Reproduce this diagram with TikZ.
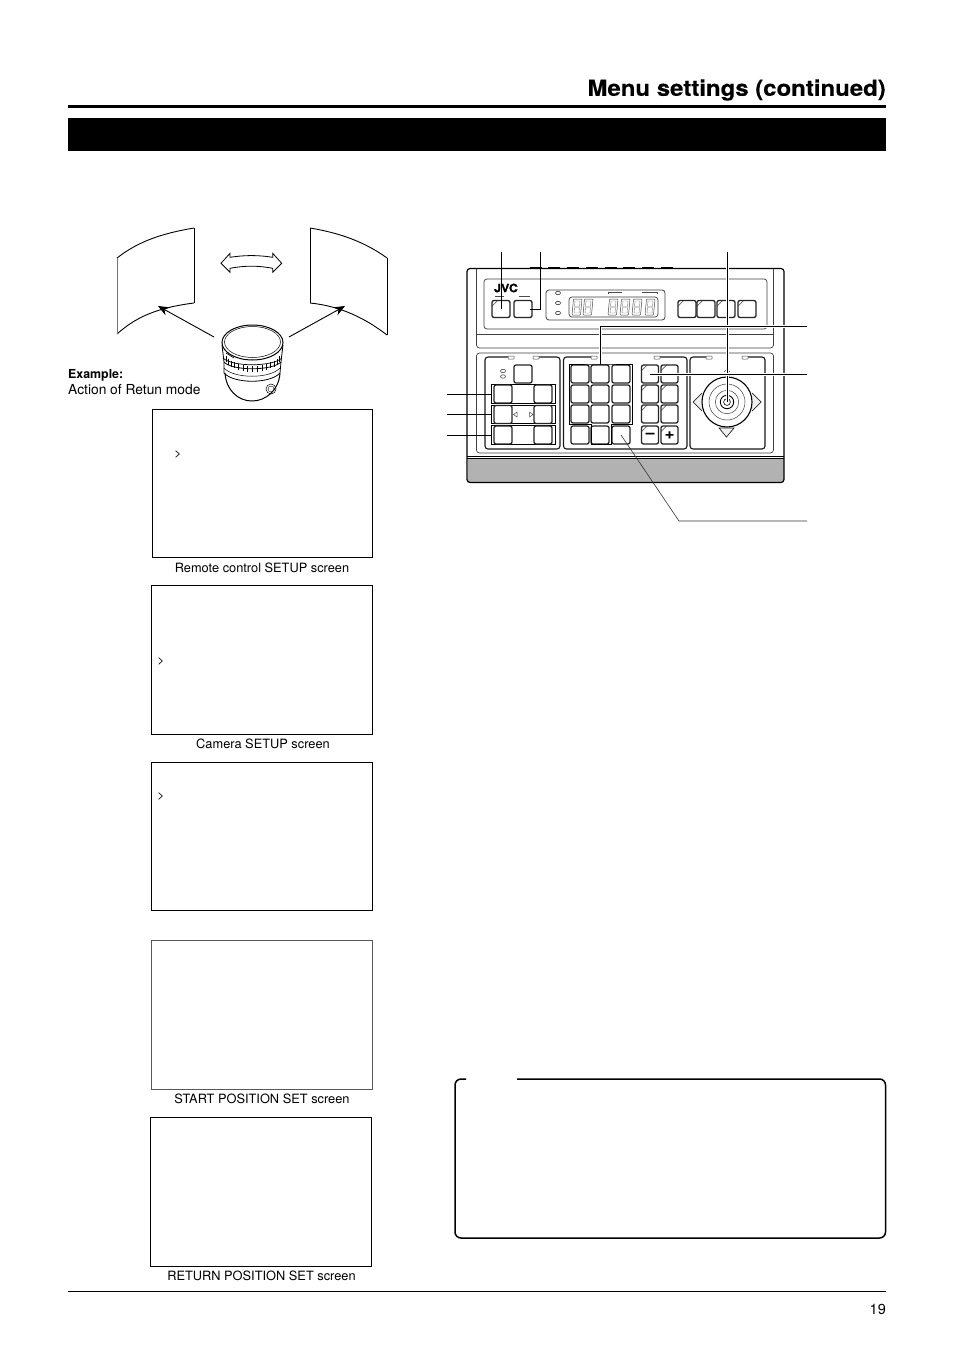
\documentclass[tikz,border=0pt]{standalone}
\usepackage{fontspec}
\setmainfont{TeX Gyre Heros}
\newfontfamily\headfont[FakeStretch=1.09,FakeBold=0.3]{TeX Gyre Heros}
\usetikzlibrary{arrows.meta,shapes.geometric}
\tikzset{
  screen/.style={draw,line width=0.9pt,minimum width=220,minimum height=148,inner sep=0},
  caption/.style={font=\fontsize{12.8}{15}\selectfont,inner sep=0},
  key/.style={draw=black!85,line width=1.3pt,rounded corners=2pt,minimum width=18,minimum height=18,inner sep=0},
  tkey/.style={key,path picture={\draw[black!60,line width=0.7pt] ([xshift=5.5pt]path picture bounding box.north west) -- ([yshift=-5.5pt]path picture bounding box.north west);}},
  strip/.style={draw,line width=0.8pt,minimum width=64,minimum height=18.5,inner sep=0},
  led/.style={draw=black!70,line width=0.5pt,fill=white,minimum width=6,minimum height=3,inner sep=0,rounded corners=0.5pt},
  dot/.style={draw=black!70,line width=0.6pt,ellipse,minimum width=5,minimum height=3.5,inner sep=0},
  lead/.style={line width=0.8pt,preaction={draw,white,line width=3pt}},
  panel/.style={draw=black!75,line width=0.7pt,rounded corners=3pt},
  sect/.style={draw=black!90,line width=1.1pt,rounded corners=3pt},
  view/.style={line width=0.9pt},
}
\begin{document}
\begin{tikzpicture}[x=1pt,y=-1pt]
  \useasboundingbox (0,0) rectangle (954,1351);
  \fill[white] (0,0) rectangle (954,1351);
  % page head and foot
  \node[font=\fontsize{22}{24}\headfont\bfseries,anchor=east,inner sep=0] (title) at (886,90) {Menu settings (continued)};
  \draw[line width=3pt] (68,106.5) -- (886,106.5);
  \fill (68,118) rectangle (886,151);
  \draw[line width=0.8pt] (68,1291) -- (886,1291);
  \node[font=\fontsize{14.5}{16}\selectfont,inner sep=0,anchor=east] (pageno) at (886,1309) {19};
  % views and camera
  \draw[view] (194,228) .. controls (165,233) and (140,240) .. (117,258);
  \draw[view] (194,228) -- (194,303);
  \draw[view] (194,303) .. controls (155,308) and (135,318) .. (117,334);
  \draw[black!55,line width=0.6pt] (117,258) -- (117,334);
  \draw[view] (310,228) .. controls (340,233) and (365,242) .. (387,258);
  \draw[view] (310,228) -- (310,303);
  \draw[view] (310,303) .. controls (340,306) and (365,318) .. (387,335);
  \draw[line width=0.6pt] (387,258) -- (387,335);
  \draw[line width=0.8pt] (221,263.3) -- (230,253.3) -- (230,257.3) .. controls (245,255) and (258,255) .. (272.7,257.3) -- (272.7,253.3) -- (281.7,263.3) -- (272.7,272.3) -- (272.7,268.3) .. controls (258,265.5) and (245,265.5) .. (230,268.3) -- (230,272.3) -- cycle;
  \coordinate (camL) at (214,337);
  \coordinate (camR) at (289,337);
  \coordinate (viewL) at (158,306);
  \coordinate (viewR) at (345,306);
  \draw[line width=0.9pt,-{Stealth[length=11,width=9]}] (camL) -- (viewL);
  \draw[line width=0.9pt,-{Stealth[length=11,width=9]}] (camR) -- (viewR);
  \draw[line width=1pt] (252.5,342.5) ellipse (30.5 and 17.5);
  \draw[line width=0.5pt] (252.5,342) ellipse (28 and 15.5);
  \draw[line width=0.8pt] (222,345) -- (224,362) .. controls (232,371) and (272,371) .. (281,362) -- (283,345);
  \foreach \t in {20,30,...,160}
    \draw[line width=0.4pt] ({252.5+28*cos(\t)},{351+15*sin(\t)}) -- ++(0,6);
  \draw[line width=0.7pt] (223,358) .. controls (232,367) and (272,367) .. (282,358);
  \draw[line width=0.8pt] (224,362) -- (224,373) .. controls (234,384) and (270,384) .. (280,373) -- (281,362);
  \draw[line width=0.5pt] (224,368) .. controls (234,379) and (270,379) .. (280,368);
  \draw[line width=1pt] (225,373) .. controls (226,390) and (238,401) .. (252,401) .. controls (266,401) and (279,390) .. (280,373);
  \draw[line width=0.5pt] (271,389) circle (5);
  \draw[line width=0.4pt] (271,389) circle (3);
  \draw[line width=0.6pt] (226,353) -- (234,358);
  \node[font=\fontsize{12.4}{14}\selectfont\bfseries,anchor=west,inner sep=0] (exhead) at (68,375) {Example:};
  \node[font=\fontsize{13.8}{16}\selectfont,anchor=west,inner sep=0] (extext) at (68,390) {Action of Retun mode};
  % screens
  \node[screen] (S1) at (262.5,483) {};
  \node[screen,minimum width=221,minimum height=149] (S2) at (262,660.2) {};
  \node[screen,minimum width=221] (S3) at (262,836.5) {};
  \node[screen,minimum width=220.5,minimum height=149,draw=black!65,line width=0.6pt] (S4) at (261.7,1014.5) {};
  \node[screen,minimum width=221,minimum height=148.5] (S5) at (261,1191.7) {};
  \node[caption] (C1) at (262,567.5) {Remote control SETUP screen};
  \node[caption] (C2) at (263,743.5) {Camera SETUP screen};
  \node[caption] (C4) at (262,1098.5) {START POSITION SET screen};
  \node[caption] (C5) at (261.5,1275.5) {RETURN POSITION SET screen};
  \node[font=\fontsize{12}{13}\selectfont,inner sep=0] (G1) at (178,454) {>};
  \node[font=\fontsize{12}{13}\selectfont,inner sep=0] (G2) at (161,661) {>};
  \node[font=\fontsize{12}{13}\selectfont,inner sep=0] (G3) at (161,796) {>};
  % controller body
  \fill[black!30] (467.5,458) rectangle (783.5,482);
  \draw[line width=1.2pt,rounded corners=3pt] (467,268.5) rectangle (784,482.5);
  \draw[line width=0.6pt] (467,456.5) -- (784,456.5);
  \draw[line width=1.1pt] (467,458.5) -- (784,458.5);
  \foreach \x in {0,...,7}
    \draw[line width=1.8pt] ({529.5+\x*18.75},267.5) -- ++(12,0);
  \draw[panel] (476.5,268.5) -- (476.5,348) -- (773.5,348) -- (773.5,268.5);
  \draw[panel,rounded corners=0pt] (476.5,334) -- (773.5,334);
  \draw[panel] (484,279) rectangle (767,329);
  \draw[panel] (476.5,353) rectangle (773.5,453);
  % top row
  \node[font=\fontsize{11.5}{13}\headfont\bfseries,inner sep=0] (logo) at (506,288) {JVC};
  \node[tkey,minimum height=17] (BA) at (501,309) {};
  \node[key,minimum height=17] (BB) at (523,309) {};
  \draw[black!70,line width=0.5pt] (495,296.5) -- (504,296.5) (519,296.5) -- (530,296.5);
  \draw[panel,line width=0.8pt] (546,290) rectangle (665,320);
  \draw[panel] (569,297) rectangle (658,317);
  \draw[black!70,line width=0.5pt] (608,294) |- (622,292.5) (642,292.5) -| (657,294);
  \foreach \y [count=\n] in {293,303,313}
    \node[dot,draw=black!80] (L\n) at (558,\y) {};
  \foreach \x in {577,588,613,625,637,650} {
    \draw[black!70,line width=0.5pt,rounded corners=0.8pt] (\x-3.5,299) -- (\x+5,299) -- (\x+3.5,315) -- (\x-5,315) -- cycle;
    \draw[black!50,line width=0.4pt] (\x-2,301) -- (\x+3,301) -- (\x+2.5,306.5) -- (\x-2.5,306.5) -- cycle (\x-2.5,307.5) -- (\x+2.5,307.5) -- (\x+2,313) -- (\x-3,313) -- cycle;
  }
  \foreach \x [count=\n] in {687,706,726,747}
    \node[tkey,minimum height=17] (F\n) at (\x,309) {};
  % lower sections
  \draw[sect] (508,357) -- (485,357) -- (485,449) -- (560,449) -- (560,357) -- (538,357);
  \draw[sect] (591,357) -- (563.5,357) -- (563.5,449) -- (687,449) -- (687,357) -- (660,357);
  \draw[sect] (706,357) -- (690,357) -- (690,449) -- (765,449) -- (765,357) -- (748,357);
  \foreach \x [count=\n] in {511,536,594,657,709,745}
    \node[led] (E\n) at (\x,357.5) {};
  \node[dot] (D1) at (503,371) {};
  \node[dot] (D2) at (503,376.5) {};
  \node[key] (M0) at (523,374) {};
  \foreach \y [count=\r] in {394,414.5,435} {
    \node[strip] (R\r) at (523,\y) {};
    \node[key] (ML\r) at (503,\y) {};
    \node[key] (MR\r) at (543,\y) {};
  }
  \draw[black!70,line width=0.5pt] (517,412) -- (513.5,414.5) -- (517,417) -- cycle (529.5,412) -- (533,414.5) -- (529.5,417) -- cycle;
  \foreach \y [count=\r] in {374,394,414,435}
    \foreach \x [count=\c] in {580,600,621}
      \node[key] (K\r\c) at (\x,\y) {};
  \coordinate (padtop) at (600,364);
  \draw[line width=0.8pt] (569,364) -- (padtop) -- (632,364) -- (632,424) -- (611,424) -- (611,444.5) -- (591,444.5) -- (591,424) -- (569,424) -- cycle;
  \foreach \y [count=\r] in {374,394,414} {
    \node[tkey,minimum width=17] (TL\r) at (650,\y) {};
    \node[tkey,minimum width=17] (TR\r) at (669.5,\y) {};
  }
  \node[tkey,minimum width=17,font=\fontsize{14}{15}\headfont\bfseries] (TL4) at (650,435) {\textendash};
  \node[tkey,minimum width=17,font=\fontsize{15}{15}\headfont\bfseries] (TR4) at (669.5,435) {+};
  % joystick
  \coordinate (stick) at (727,402);
  \draw[black!85,line width=0.7pt,fill=black!6] (702,393) -- (693,402) -- (702,411);
  \draw[black!85,line width=0.7pt,fill=black!6] (752,393) -- (761,402) -- (752,411);
  \draw[black!85,line width=0.7pt,fill=black!6] (719,428) -- (734,428) -- (726.5,437) -- cycle;
  \draw[black!70,line width=0.5pt] (724,372) -- (727,369) -- (730,372);
  \fill[white] (stick) circle (25);
  \draw[line width=1.1pt] (stick) circle (25);
  \foreach \r in {18,11.7}
    \draw[black!75,line width=0.5pt] (stick) circle (\r);
  \draw[line width=0.9pt] (stick) circle (6.7);
  \draw[line width=0.6pt] (stick) circle (3.4);
  % leaders
  \coordinate (p1) at (501,252);
  \coordinate (p2) at (540.5,252);
  \coordinate (p3) at (727,252);
  \coordinate (p4) at (807,326);
  \coordinate (p5) at (807,374);
  \coordinate (p6) at (447,394);
  \coordinate (p7) at (447,414.5);
  \coordinate (p8) at (447,435);
  \coordinate (p9) at (807,521);
  \coordinate (p10) at (679,521);
  \draw[line width=0.8pt] (p1) -- (BA.center);
  \draw[line width=0.8pt] (p2) |- ([xshift=7pt]BB.center);
  \draw[lead] (p3) -- (stick);
  \draw[lead] (p4) -| (padtop);
  \draw[lead] (p5) -- (TL1.center);
  \draw[line width=0.8pt] (p6) -- (R1.west);
  \draw[line width=0.8pt] (p7) -- (R2.west);
  \draw[line width=0.8pt] (p8) -- (R3.west);
  \draw[line width=0.6pt,black!80] (p9) -- (p10) -- (K43.center);
  % note frame
  \draw[line width=1.5pt,rounded corners=6pt] (517,1079) -- (885.5,1079) -- (885.5,1238) -- (455,1238) -- (455,1079) -- (466,1079);
\end{tikzpicture}
\end{document}
